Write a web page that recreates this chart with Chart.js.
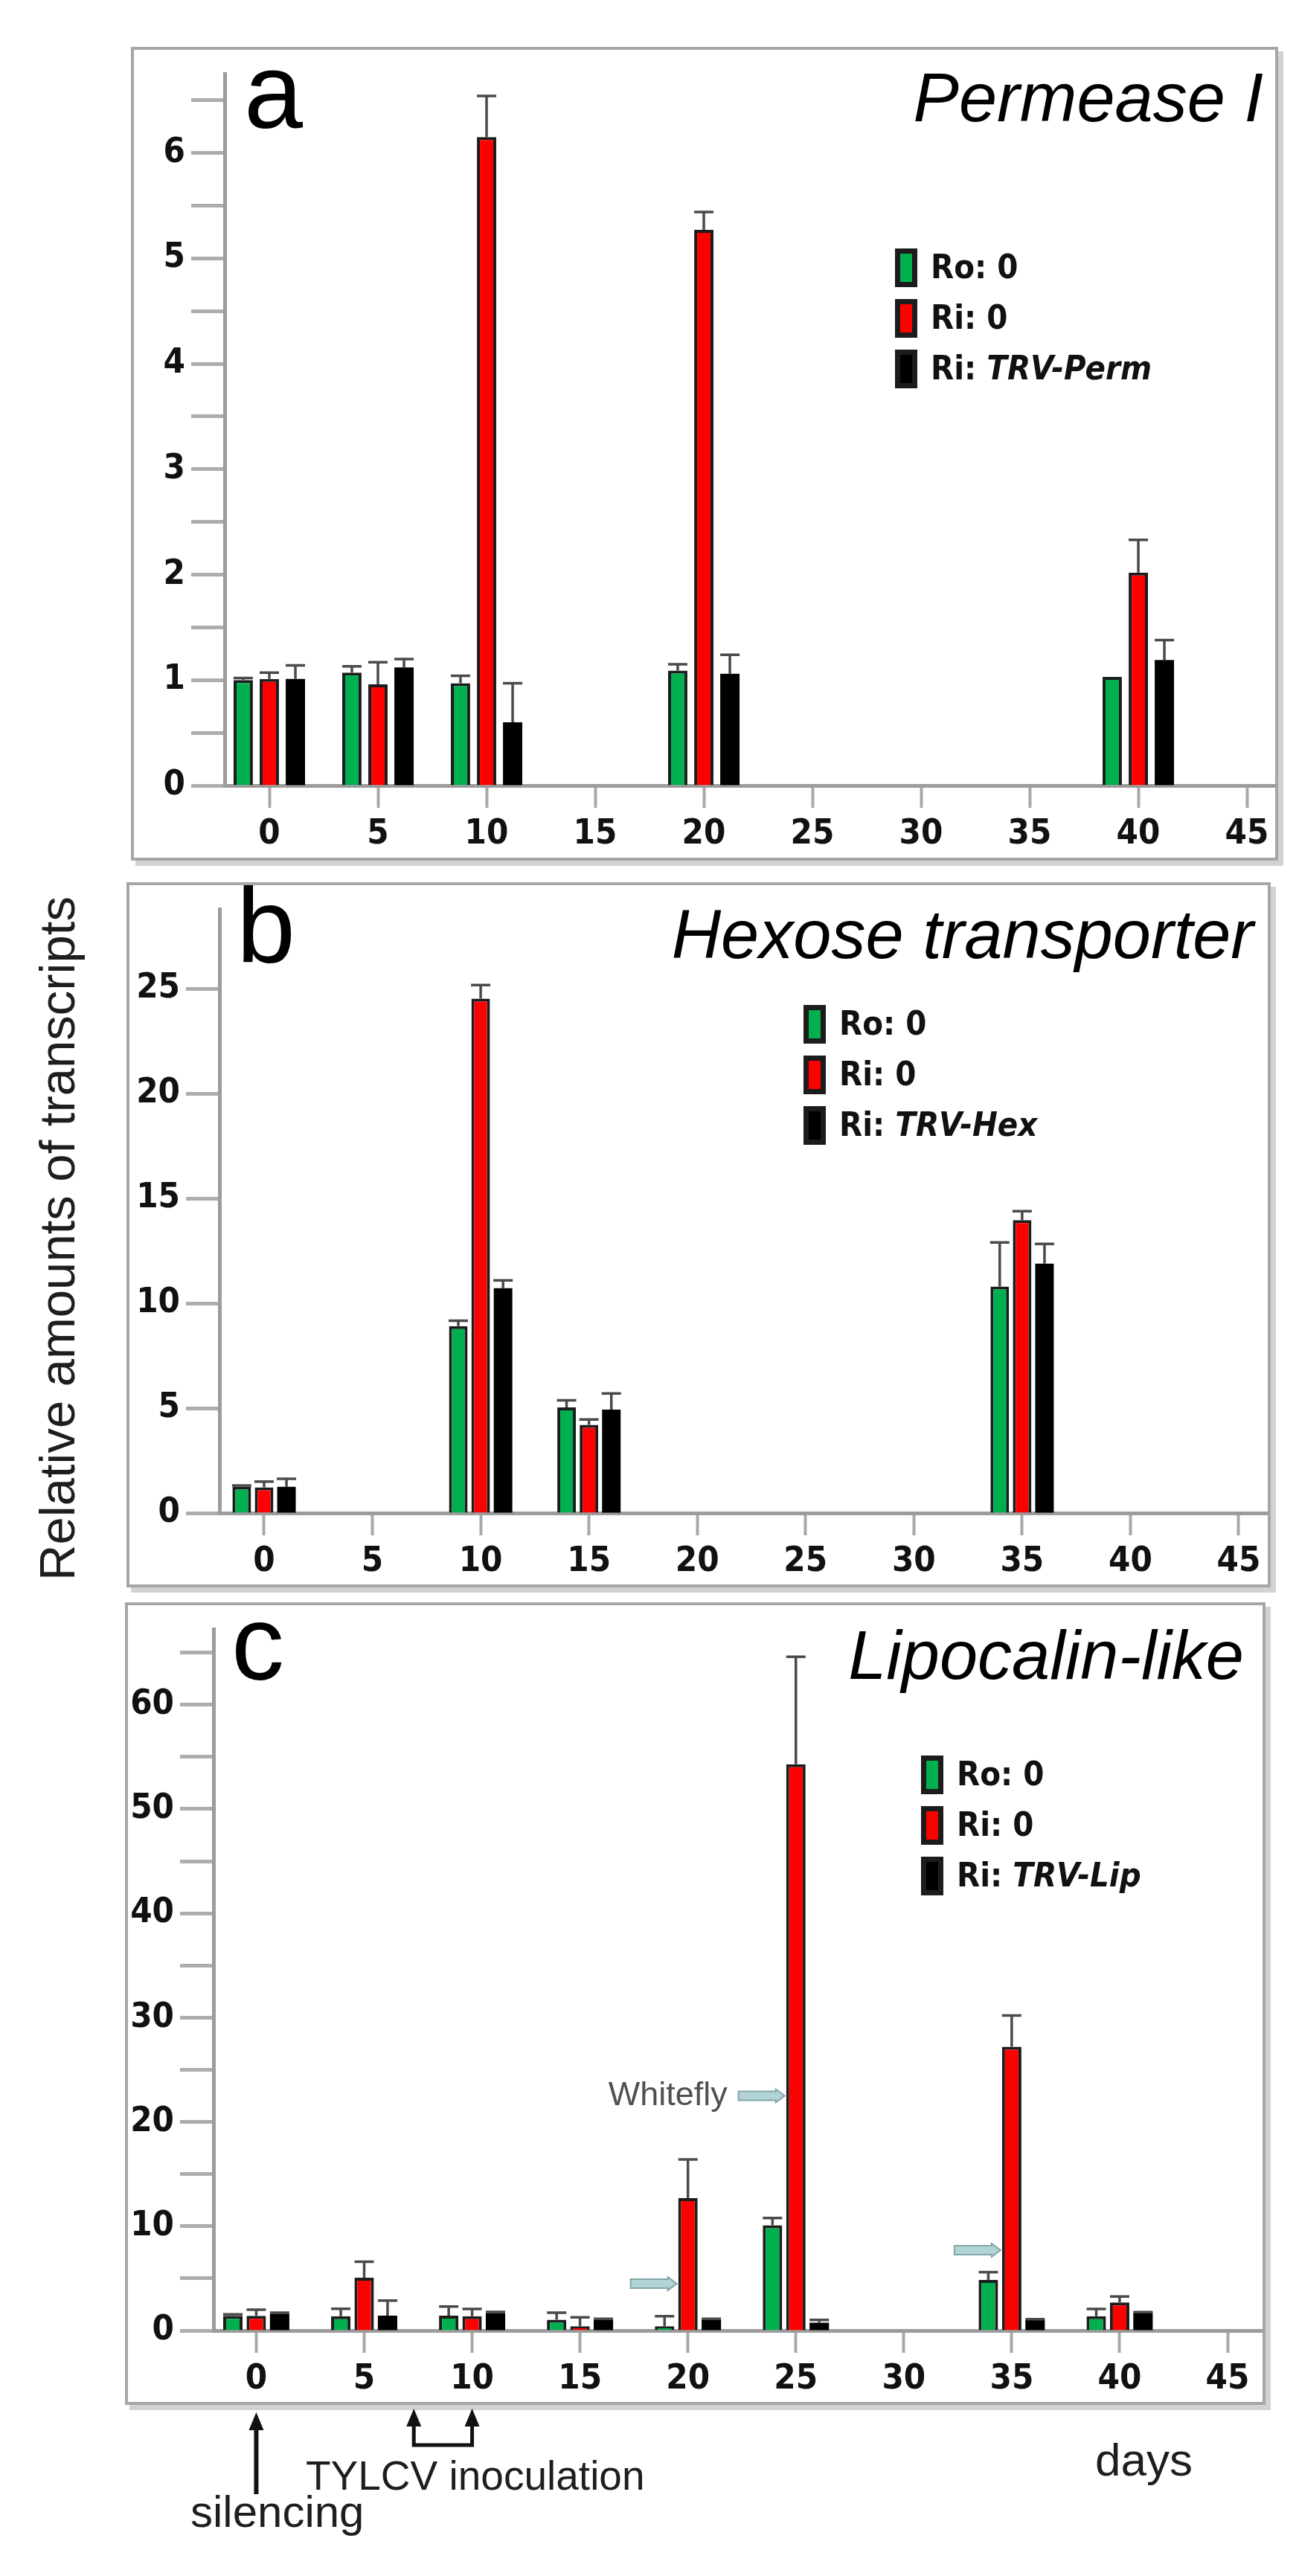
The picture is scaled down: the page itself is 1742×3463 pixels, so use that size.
<!DOCTYPE html>
<html>
<head>
<meta charset="utf-8">
<script src="https://cdn.jsdelivr.net/npm/chart.js@4.4.1/dist/chart.umd.min.js"></script>
<style>
  html, body { margin: 0; padding: 0; background: #fff; }
  #page { position: relative; width: 1742px; height: 3463px; overflow: hidden; background: #fff; }
  #page canvas { position: absolute; }
  #ylabel {
    position: absolute; left: 76px; top: 1665px;
    font: 67px 'Liberation Sans', Arial, sans-serif; line-height: 67px; color: #1e1e1e;
    white-space: nowrap; transform: translate(-50%, -50%) rotate(-90deg);
  }
</style>
</head>
<body>
<div id="page">
  <div id="ylabel">Relative amounts of transcripts</div>
</div>
<script>
var X_TICKS = [0, 5, 10, 15, 20, 25, 30, 35, 40, 45];

// a - Permease I
var DAYS_A = [0, 5, 10, 20, 40];
var RO_A = [1.00, 1.07, 0.97, 1.09, 1.03];
var RO_ERR_A = [0.02, 0.06, 0.07, 0.06, 0.0];
var RI_A = [1.01, 0.96, 6.15, 5.27, 2.02];
var RI_ERR_A = [0.06, 0.21, 0.39, 0.17, 0.31];
var TRV_A = [1.01, 1.12, 0.60, 1.06, 1.19];
var TRV_ERR_A = [0.13, 0.08, 0.37, 0.18, 0.19];
var LABELS_A = ['Ro: 0', 'Ri: 0', 'Ri: TRV-Perm'];
var Y_TICKS_A = [0, 0.5, 1, 1.5, 2, 2.5, 3, 3.5, 4, 4.5, 5, 5.5, 6, 6.5];

// b - Hexose transporter
var DAYS_B = [0, 10, 15, 35];
var RO_B = [1.26, 8.91, 5.04, 10.8];
var RO_ERR_B = [0.05, 0.26, 0.33, 2.1];
var RI_B = [1.22, 24.52, 4.2, 13.96];
var RI_ERR_B = [0.28, 0.65, 0.26, 0.43];
var TRV_B = [1.25, 10.72, 4.93, 11.89];
var TRV_ERR_B = [0.38, 0.37, 0.77, 0.94];
var LABELS_B = ['Ro: 0', 'Ri: 0', 'Ri: TRV-Hex'];
var Y_TICKS_B = [0, 5, 10, 15, 20, 25];

// c - Lipocalin-like
var DAYS_C = [0, 5, 10, 15, 20, 25, 35, 40];
var RO_C = [1.4, 1.38, 1.43, 1.03, 0.41, 10.1, 4.85, 1.38];
var RO_ERR_C = [0.15, 0.7, 0.87, 0.69, 0.97, 0.68, 0.75, 0.69];
var RI_C = [1.4, 5.06, 1.38, 0.41, 12.7, 54.3, 27.2, 2.69];
var RI_ERR_C = [0.6, 1.54, 0.69, 0.85, 3.7, 10.3, 3.0, 0.57];
var TRV_C = [1.62, 1.43, 1.68, 1.03, 1.03, 0.74, 1.03, 1.72];
var TRV_ERR_C = [0.1, 1.44, 0.1, 0.1, 0.1, 0.28, 0.05, 0.05];
var LABELS_C = ['Ro: 0', 'Ri: 0', 'Ri: TRV-Lip'];
var Y_TICKS_C = [0, 5, 10, 15, 20, 25, 30, 35, 40, 45, 50, 55, 60, 65];

// arrows in panel c: day of the red bar they point at, and height
var WHITEFLY_DAYS = [25, 20, 35];
var WHITEFLY_LEVEL = [22.5, 4.5, 7.7];
var SILENCING_DAYS = [0];
var INOCULATION_DAYS = [7.3, 10];

var COLORS = ['#00b04f', '#ff0000', '#000000'];
var NARROW = "'Liberation Sans Narrow', 'DejaVu Sans Condensed', 'Liberation Sans', sans-serif";
var TICK_FONT = { family: NARROW, size: 47, weight: 'bold' };

var page = document.getElementById('page');

function toXY(days, vals) {
  return days.map(function (d, i) { return { x: d, y: vals[i] }; });
}

function makePanel(p) {
  var cv = document.createElement('canvas');
  cv.width = p.box.w + 8;
  cv.height = p.canvasH;
  cv.style.left = p.box.l + 'px';
  cv.style.top = p.box.t + 'px';
  page.appendChild(cv);

  var innerBottom = p.box.h - 4;
  var xAxisH = innerBottom - (p.zeroY - p.box.t);
  var yAxisW = p.yAxisX - p.box.l - 4;

  var framePlugin = {
    id: 'frame',
    beforeDraw: function (chart) {
      var ctx = chart.ctx;
      ctx.save();
      ctx.fillStyle = '#fff';
      ctx.fillRect(0, 0, chart.width, chart.height);
      ctx.fillStyle = '#d2d2d2';
      ctx.fillRect(6, p.box.h, p.box.w, 7);
      ctx.fillRect(p.box.w, 6, 7, p.box.h + 1);
      ctx.strokeStyle = '#a6a6a6';
      ctx.lineWidth = 4;
      ctx.strokeRect(2, 2, p.box.w - 4, p.box.h - 4);
      ctx.restore();
    }
  };

  var errorPlugin = {
    id: 'errbars',
    afterDatasetsDraw: function (chart) {
      var ctx = chart.ctx, ys = chart.scales.y;
      ctx.save();
      chart.data.datasets.forEach(function (ds, di) {
        var meta = chart.getDatasetMeta(di);
        meta.data.forEach(function (el, i) {
          var e = p.errors[di][i];
          if (!e) return;
          var top = ys.getPixelForValue(ds.data[i].y + e);
          ctx.strokeStyle = '#4a4a4a';
          ctx.lineWidth = 3.5;
          ctx.beginPath();
          ctx.moveTo(el.x, el.y);
          ctx.lineTo(el.x, top);
          ctx.moveTo(el.x - 13, top);
          ctx.lineTo(el.x + 13, top);
          ctx.stroke();
        });
      });
      ctx.restore();
    }
  };

  var textPlugin = {
    id: 'panelText',
    afterDraw: function (chart) {
      var ctx = chart.ctx;
      ctx.save();
      ctx.fillStyle = '#000';
      ctx.textBaseline = 'alphabetic';
      ctx.textAlign = 'left';
      ctx.font = "142px 'Liberation Sans', Arial, sans-serif";
      ctx.fillText(p.letter, p.letterX, p.letterY);
      ctx.textAlign = 'right';
      ctx.font = "italic 92px 'Liberation Sans', Arial, sans-serif";
      ctx.fillText(p.title, p.titleX, p.titleY);

      // legend
      ctx.textAlign = 'left';
      ctx.textBaseline = 'middle';
      chart.data.datasets.forEach(function (ds, di) {
        var cy = p.legendY + di * 68;
        ctx.fillStyle = '#1c1c1c';
        ctx.fillRect(p.legendX, cy - 26, 30, 52);
        ctx.fillStyle = ds.backgroundColor;
        ctx.fillRect(p.legendX + 7, cy - 19, 16, 38);
        var parts = ds.label.split(': ');
        var tx = p.legendX + 48;
        ctx.fillStyle = '#111';
        ctx.font = 'bold 45px ' + NARROW;
        var head = parts[0] + ': ';
        ctx.fillText(head, tx, cy + 2);
        tx += ctx.measureText(head).width;
        if (parts[1].indexOf('TRV') === 0) ctx.font = 'italic bold 45px ' + NARROW;
        ctx.fillText(parts[1], tx, cy + 2);
      });
      ctx.restore();
      if (p.extra) p.extra(chart);
    }
  };

  return new Chart(cv.getContext('2d'), {
    type: 'bar',
    data: {
      datasets: p.series.map(function (vals, di) {
        return {
          label: p.labels[di],
          data: toXY(p.days, vals),
          backgroundColor: COLORS[di],
          borderColor: di === 2 ? '#000' : '#1c1c1c',
          borderWidth: di === 2 ? 0 : 4,
          categoryPercentage: p.catPct,
          barPercentage: p.barPct
        };
      })
    },
    options: {
      responsive: false,
      animation: false,
      events: [],
      layout: { padding: { left: 4, top: 4, right: 12, bottom: p.canvasH - innerBottom } },
      plugins: { legend: { display: false }, tooltip: { enabled: false } },
      scales: {
        x: {
          type: 'linear',
          min: p.xMin,
          max: p.xMax,
          offset: false,
          afterBuildTicks: function (ax) { ax.ticks = X_TICKS.map(function (v) { return { value: v }; }); },
          afterFit: function (ax) { ax.height = xAxisH; },
          ticks: { autoSkip: false, maxRotation: 0, color: '#111', font: TICK_FONT, padding: 8 },
          grid: { offset: false, drawOnChartArea: false, drawTicks: true, tickLength: 30, tickWidth: 4, tickColor: '#a8a8a8' },
          border: { display: true, color: '#9c9c9c', width: 5 }
        },
        y: {
          min: 0,
          max: p.yMax,
          afterBuildTicks: function (ax) { ax.ticks = p.yTicks.map(function (v) { return { value: v }; }); },
          afterFit: function (ax) { ax.width = yAxisW; },
          ticks: {
            autoSkip: false, color: '#111', font: TICK_FONT, padding: 8,
            callback: function (v) { return v % p.yLabelEvery === 0 ? v : ''; }
          },
          grid: { drawOnChartArea: false, drawTicks: true, tickLength: 45, tickWidth: 5, tickColor: '#adadad' },
          border: { display: true, color: '#9c9c9c', width: 5 }
        }
      }
    },
    plugins: [framePlugin, errorPlugin, textPlugin]
  });
}

makePanel({
  box: { l: 176, t: 63, w: 1542, h: 1094 }, canvasH: 1102,
  yAxisX: 302, zeroY: 1056, xMin: -2.055, xMax: 46.3, yMax: 6.75,
  yTicks: Y_TICKS_A, yLabelEvery: 1, catPct: 0.72, barPct: 0.74,
  days: DAYS_A, series: [RO_A, RI_A, TRV_A], errors: [RO_ERR_A, RI_ERR_A, TRV_ERR_A], labels: LABELS_A,
  letter: 'a', letterX: 152, letterY: 109, title: 'Permease I', titleX: 1522, titleY: 100,
  legendX: 1027, legendY: 297
});

makePanel({
  box: { l: 170, t: 1186, w: 1538, h: 948 }, canvasH: 956,
  yAxisX: 295, zeroY: 2034, xMin: -2.06, xMax: 46.34, yMax: 28.79,
  yTicks: Y_TICKS_B, yLabelEvery: 5, catPct: 0.62, barPct: 0.83,
  days: DAYS_B, series: [RO_B, RI_B, TRV_B], errors: [RO_ERR_B, RI_ERR_B, TRV_ERR_B], labels: LABELS_B,
  letter: 'b', letterX: 148, letterY: 108, title: 'Hexose transporter', titleX: 1515, titleY: 102,
  legendX: 910, legendY: 191
});

makePanel({
  box: { l: 168, t: 2154, w: 1533, h: 1079 }, canvasH: 1309,
  yAxisX: 287, zeroY: 3133, xMin: -1.98, xMax: 46.62, yMax: 67.24,
  yTicks: Y_TICKS_C, yLabelEvery: 10, catPct: 0.65, barPct: 0.83,
  days: DAYS_C, series: [RO_C, RI_C, TRV_C], errors: [RO_ERR_C, RI_ERR_C, TRV_ERR_C], labels: LABELS_C,
  letter: 'c', letterX: 143, letterY: 104, title: 'Lipocalin-like', titleX: 1504, titleY: 103,
  legendX: 1070, legendY: 232,
  extra: function (chart) {
    var ctx = chart.ctx, xs = chart.scales.x, ys = chart.scales.y;
    var red = chart.getDatasetMeta(1);
    ctx.save();
    // whitefly arrows
    WHITEFLY_DAYS.forEach(function (d, k) {
      var i = DAYS_C.indexOf(d);
      var el = red.data[i];
      var tip = el.x - el.width / 2 - 2;
      var y = ys.getPixelForValue(WHITEFLY_LEVEL[k]);
      ctx.fillStyle = '#b2d4d6';
      ctx.strokeStyle = '#84a5a8';
      ctx.lineWidth = 2;
      ctx.beginPath();
      ctx.moveTo(tip - 62, y - 6);
      ctx.lineTo(tip - 12, y - 6);
      ctx.lineTo(tip - 12, y - 9);
      ctx.lineTo(tip, y);
      ctx.lineTo(tip - 12, y + 9);
      ctx.lineTo(tip - 12, y + 6);
      ctx.lineTo(tip - 62, y + 6);
      ctx.closePath();
      ctx.fill();
      ctx.stroke();
      if (k === 0) {
        ctx.fillStyle = '#505050';
        ctx.font = "45px 'Liberation Sans', Arial, sans-serif";
        ctx.textAlign = 'right';
        ctx.textBaseline = 'middle';
        ctx.fillText('Whitefly', tip - 77, y);
      }
    });

    // arrows under the axis
    var boxB = 1079;
    ctx.strokeStyle = '#111';
    ctx.fillStyle = '#111';
    ctx.lineWidth = 6;
    function upArrow(x, tipY) {
      ctx.beginPath();
      ctx.moveTo(x, tipY);
      ctx.lineTo(x - 10, tipY + 24);
      ctx.lineTo(x + 10, tipY + 24);
      ctx.closePath();
      ctx.fill();
    }
    SILENCING_DAYS.forEach(function (d) {
      var x = xs.getPixelForValue(d);
      ctx.beginPath();
      ctx.moveTo(x, boxB + 20);
      ctx.lineTo(x, boxB + 120);
      ctx.stroke();
      upArrow(x, boxB + 10);
    });
    var xa = xs.getPixelForValue(INOCULATION_DAYS[0]);
    var xb = xs.getPixelForValue(INOCULATION_DAYS[1]);
    ctx.lineWidth = 5;
    ctx.beginPath();
    ctx.moveTo(xa, boxB + 20);
    ctx.lineTo(xa, boxB + 54);
    ctx.lineTo(xb, boxB + 54);
    ctx.lineTo(xb, boxB + 20);
    ctx.stroke();
    upArrow(xa, boxB + 5);
    upArrow(xb, boxB + 5);

    ctx.fillStyle = '#1e1e1e';
    ctx.textAlign = 'left';
    ctx.textBaseline = 'alphabetic';
    ctx.font = "55px 'Liberation Sans', Arial, sans-serif";
    ctx.fillText('TYLCV inoculation', 243, 1193);
    ctx.font = "60px 'Liberation Sans', Arial, sans-serif";
    ctx.fillText('silencing', 88, 1243);
    ctx.font = "62px 'Liberation Sans', Arial, sans-serif";
    ctx.fillText('days', 1304, 1174);
    ctx.restore();
  }
});
</script>
</body>
</html>
